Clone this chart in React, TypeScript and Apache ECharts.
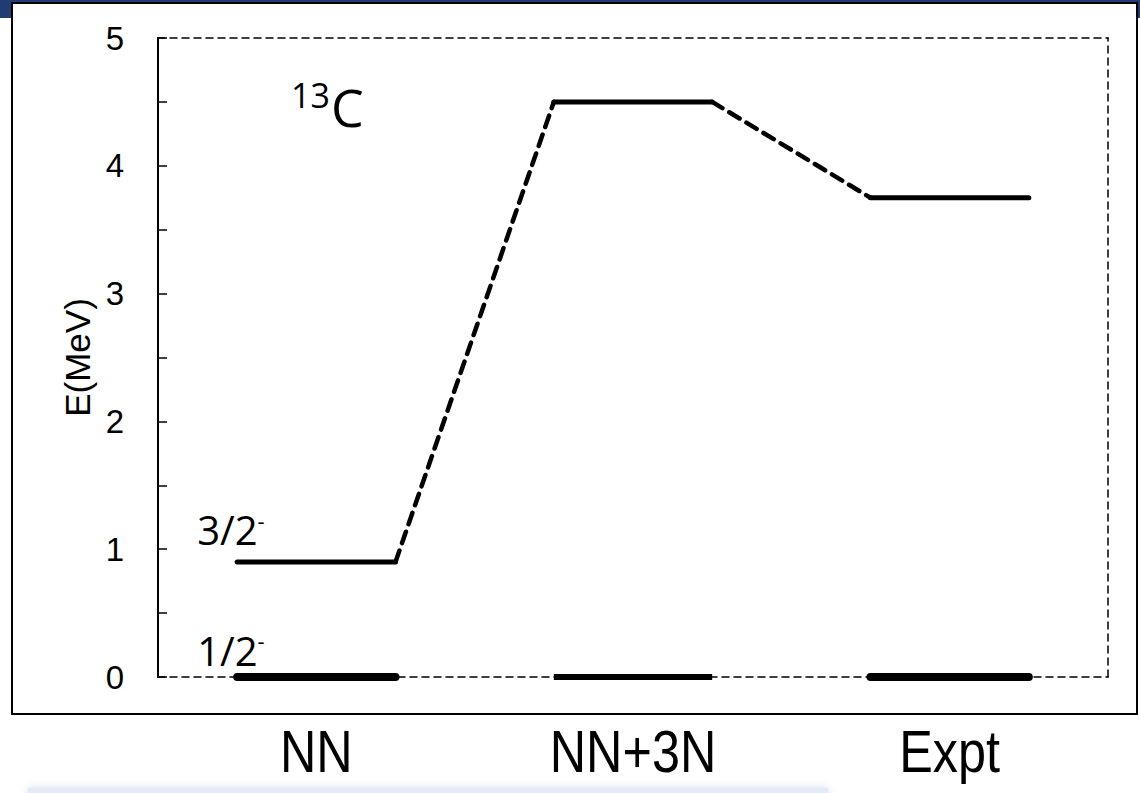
import React, { useEffect, useRef } from "react";
import * as echarts from "echarts";

const categories = ["NN", "NN+3N", "Expt"];
const groundEnergy = [0, 0, 0];
const excitedEnergy = [0.9, 4.5, 3.75];
const groundLabel = "1/2";
const excitedLabel = "3/2";
const parity = "-";
const nucleusMass = "13";
const nucleusSymbol = "C";
const yAxisName = "E(MeV)";
const yMin = 0;
const yMax = 5;
const yStep = 1;

const HALF = 0.25;
const FONT_SANS = "Liberation Sans, Arial, sans-serif";
const FONT_CAL = "Open Sans, Noto Sans, sans-serif";

export default function App() {
  const ref = useRef<HTMLDivElement>(null);
  useEffect(() => {
    document.body.style.margin = "0";
    const chart = echarts.init(ref.current!, null, { renderer: "svg" });
    const series: any[] = [];
    categories.forEach((_, i) => {
      series.push({
        type: "line",
        name: "ground-" + i,
        clip: false,
        symbol: "none",
        data: [
          [i + 0.5 - HALF, groundEnergy[i]],
          [i + 0.5 + HALF, groundEnergy[i]],
        ],
        lineStyle: { color: "#000", width: i === 1 ? 6 : 8, cap: i === 1 ? "butt" : "round" },
        z: 5,
      });
      series.push({
        type: "line",
        name: "excited-" + i,
        clip: false,
        symbol: "none",
        data: [
          [i + 0.5 - HALF, excitedEnergy[i]],
          [i + 0.5 + HALF, excitedEnergy[i]],
        ],
        lineStyle: { color: "#000", width: 5, cap: "round" },
        z: 5,
      });
      if (i < categories.length - 1) {
        series.push({
          type: "line",
          name: "link-" + i,
          clip: false,
          symbol: "none",
          data: [
            [i + 0.5 + HALF, excitedEnergy[i]],
            [i + 1.5 - HALF, excitedEnergy[i + 1]],
          ],
          lineStyle: { color: "#000", width: 4.5, type: [12, 8], cap: "round" },
          z: 5,
        });
      }
    });

    const dashed = { color: "#000", width: 1.5, type: [7, 5] };
    const option: any = {
      animation: false,
      backgroundColor: "#ffffff",
      grid: { left: 158, right: 32, top: 38, bottom: 116 },
      xAxis: [
        {
          type: "value",
          min: 0,
          max: categories.length,
          interval: 0.5,
          splitLine: { show: false },
          axisTick: { show: false },
          axisLine: { show: true, onZero: false, lineStyle: dashed },
          axisLabel: { show: false },
        },
        {
          type: "value",
          position: "top",
          min: 0,
          max: categories.length,
          splitLine: { show: false },
          axisTick: { show: false },
          axisLabel: { show: false },
          axisLine: { show: true, onZero: false, lineStyle: dashed },
        },
      ],
      yAxis: [
        {
          type: "value",
          min: yMin,
          max: yMax,
          interval: yStep,
          name: yAxisName,
          nameLocation: "middle",
          nameGap: 54,
          nameRotate: 90,
          nameTextStyle: { fontFamily: FONT_SANS, fontSize: 35, color: "#000" },
          splitLine: { show: false },
          axisLine: { show: true, onZero: false, lineStyle: { color: "#000", width: 2 } },
          axisTick: { show: true, inside: true, length: 9, lineStyle: { color: "#000", width: 1.5 } },
          minorTick: { show: true, splitNumber: 2, length: 9, lineStyle: { color: "#000", width: 1.5 } },
          axisLabel: { margin: 34, fontFamily: FONT_SANS, fontSize: 33, color: "#000", padding: [0, 0, 4, 0] },
        },
        {
          type: "value",
          position: "right",
          min: yMin,
          max: yMax,
          splitLine: { show: false },
          axisTick: { show: false },
          axisLabel: { show: false },
          axisLine: { show: true, onZero: false, lineStyle: dashed },
        },
      ],
      series,
    };
    chart.setOption(option);

    const p0 = chart.convertToPixel({ gridIndex: 0 }, [0.5 - HALF, groundEnergy[0]]) as number[];
    const p1 = chart.convertToPixel({ gridIndex: 0 }, [0.5 - HALF, excitedEnergy[0]]) as number[];
    const rich = {
      a: { fontFamily: FONT_CAL, fontSize: 40, color: "#000" },
      b: { fontFamily: FONT_CAL, fontSize: 22, color: "#000", verticalAlign: "top", padding: [0, 0, 20, 0] },
    };
    const catLabels = categories.map((name, i) => {
      const p = chart.convertToPixel({ gridIndex: 0 }, [i + 0.5, yMin]) as number[];
      return {
        type: "text",
        x: p[0],
        y: p[1] + 104,
        scaleX: 0.84,
        style: {
          text: name,
          fontFamily: FONT_SANS,
          fontSize: 60,
          fill: "#000",
          align: "center",
          verticalAlign: "bottom",
        },
        z: 10,
      };
    });
    chart.setOption({
      graphic: [
        { type: "rect", shape: { x: 0, y: 0, width: 1140, height: 3 }, style: { fill: "#1f3d73" }, z: 10 },
        { type: "rect", shape: { x: 0, y: 0, width: 11, height: 18 }, style: { fill: "#1f3d73" }, z: 10 },
        { type: "rect", shape: { x: 1138, y: 0, width: 2, height: 18 }, style: { fill: "#1f3d73" }, z: 10 },
        {
          type: "rect",
          shape: { x: 12, y: 3, width: 1125, height: 711 },
          style: { fill: "none", stroke: "#000", lineWidth: 2 },
          z: 10,
        },
        {
          type: "rect",
          shape: { x: 28, y: 788, width: 800, height: 12 },
          style: { fill: "#e4ebf7", shadowBlur: 8, shadowColor: "rgba(120,150,210,0.35)" },
          z: 1,
        },
        ...catLabels,
        {
          type: "text",
          x: 291,
          y: 112,
          style: { text: nucleusMass, fontFamily: FONT_CAL, fontSize: 34, fill: "#000", verticalAlign: "bottom" },
          z: 10,
        },
        {
          type: "text",
          x: 331,
          y: 132,
          style: { text: nucleusSymbol, fontFamily: FONT_CAL, fontSize: 52, fill: "#000", verticalAlign: "bottom" },
          z: 10,
        },
        {
          type: "text",
          x: p1[0] - 40,
          y: p1[1] - 32,
          style: { text: "{a|" + excitedLabel + "}{b|" + parity + "}", rich, verticalAlign: "middle" },
          z: 10,
        },
        {
          type: "text",
          x: p0[0] - 40,
          y: p0[1] - 27,
          style: { text: "{a|" + groundLabel + "}{b|" + parity + "}", rich, verticalAlign: "middle" },
          z: 10,
        },
      ],
    });
    return () => chart.dispose();
  }, []);
  return (
    <div
      ref={ref}
      style={{ position: "absolute", left: 0, top: 0, width: 1140, height: 793, background: "#fff" }}
    />
  );
}
